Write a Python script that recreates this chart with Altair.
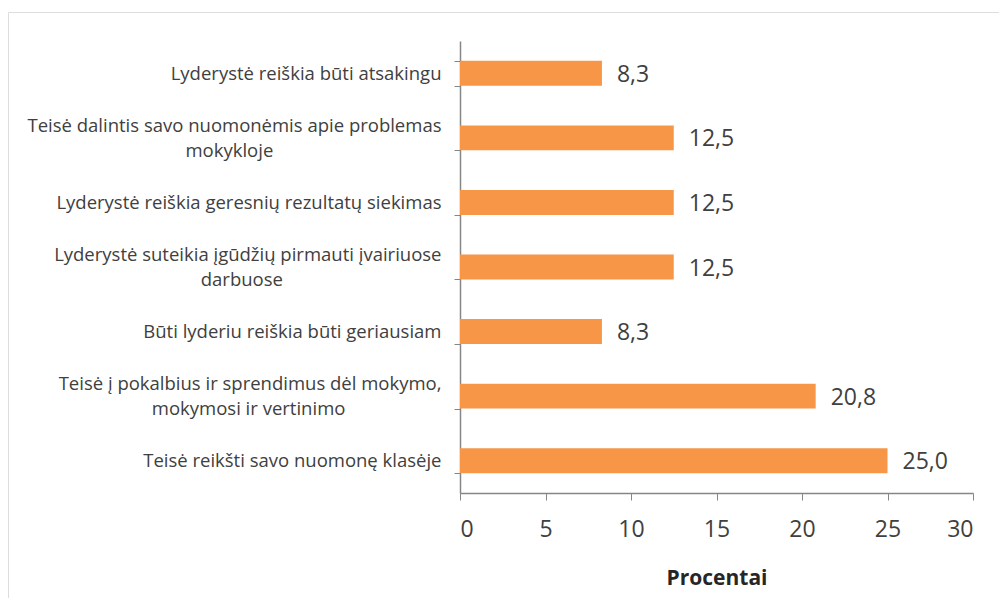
import altair as alt
import pandas as pd

categories = [
    "Lyderystė reiškia būti atsakingu",
    "Teisė dalintis savo nuomonėmis apie problemas\nmokykloje",
    "Lyderystė reiškia geresnių rezultatų siekimas",
    "Lyderystė suteikia įgūdžių pirmauti įvairiuose\ndarbuose",
    "Būti lyderiu reiškia būti geriausiam",
    "Teisė į pokalbius ir sprendimus dėl mokymo,\nmokymosi ir vertinimo",
    "Teisė reikšti savo nuomonę klasėje",
]
values = [8.3, 12.5, 12.5, 12.5, 8.3, 20.8, 25.0]
x_ticks = [0, 5, 10, 15, 20, 25, 30]

# no-break spaces (closed by a zero-width space so they are not trimmed)
# appended to second lines so they sit centred under the first line
second_line_pad = {1: 35, 3: 33, 5: 20}


def display_label(i, c):
    if "\n" in c:
        return c + "\u00a0" * second_line_pad.get(i, 0) + "\u200b"
    return c


labels = [display_label(i, c) for i, c in enumerate(categories)]

df = pd.DataFrame({
    "cat": labels,
    "val": values,
    "lbl": [f"{v:.1f}".replace(".", ",") for v in values],
})

W, H = 991, 586
FONT = "Open Sans"
TXT = "#404040"
AX = "#868686"

y_enc = alt.Y(
    "cat:N",
    sort=labels,
    scale=alt.Scale(range=[29, 481], paddingInner=0.614, paddingOuter=0.307),
    axis=alt.Axis(
        title=None,
        orient="left",
        offset=-452,
        tickBand="extent",
        tickSize=6,
        tickColor=AX,
        domainColor=AX,
        domainWidth=1.5,
        labelPadding=13,
        labelFont=FONT,
        labelFontSize=18.5,
        labelColor=TXT,
        labelLimit=800,
        labelLineHeight=25,
        labelOffset={
            "condition": {"test": "indexof(datum.label, '\\n') >= 0", "value": -12.5},
            "value": 0,
        },
        labelExpr="split(datum.label, '\\n')",
        grid=False,
    ),
)

x_enc = alt.X(
    "val:Q",
    scale=alt.Scale(domain=[0, 30], range=[452, 965], nice=False),
    axis=alt.Axis(
        title="Procentai",
        orient="bottom",
        offset=-(H - 481),
        values=x_ticks,
        tickSize=7,
        tickColor=AX,
        domainColor=AX,
        domainWidth=1.5,
        labelPadding=18,
        labelFont=FONT,
        labelFontSize=23,
        labelColor=TXT,
        titleFont=FONT,
        titleFontSize=21,
        titleFontWeight="bold",
        titleColor="#262626",
        titlePadding=26,
        grid=False,
    ),
)

bars = alt.Chart(df).mark_bar(color="#F79646").encode(x=x_enc, y=y_enc)
text = alt.Chart(df).mark_text(
    align="left", baseline="middle", dx=15, dy=1.5, font=FONT, fontSize=23, color=TXT
).encode(x="val:Q", y=alt.Y("cat:N", sort=labels), text="lbl:N")

chart = (
    alt.layer(bars, text)
    .properties(
        width=W,
        height=H,
        autosize=alt.AutoSizeParams(type="none"),
        padding={"left": 0, "top": 4, "right": 0, "bottom": 0},
    )
    .configure_view(stroke="#808080", strokeWidth=2)
    .configure(background="white")
)

chart.save("out.html", embed_options={"renderer": "svg", "actions": False})
